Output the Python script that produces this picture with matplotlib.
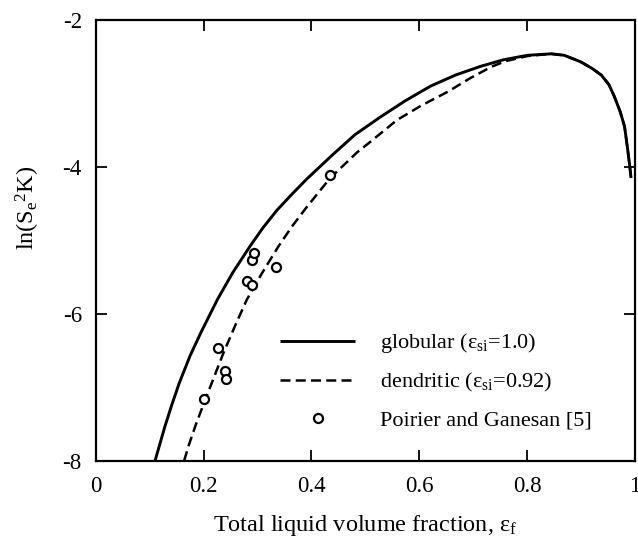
import matplotlib
matplotlib.use("Agg")
import matplotlib.pyplot as plt

plt.rcParams['font.family'] = ['Liberation Serif', 'DejaVu Serif']
plt.rcParams['mathtext.fontset'] = 'custom'
plt.rcParams['mathtext.rm'] = 'Liberation Serif'
plt.rcParams['mathtext.it'] = 'Liberation Serif:italic'
plt.rcParams['axes.unicode_minus'] = False

# globular curve (eps_si = 1.0)
glob_x = [0.110, 0.119, 0.128, 0.141, 0.155, 0.175, 0.196, 0.226, 0.254, 0.287,
          0.310, 0.336, 0.364, 0.392, 0.440, 0.481, 0.528, 0.574, 0.621, 0.667,
          0.714, 0.757, 0.801, 0.845, 0.869, 0.900, 0.921, 0.938, 0.952, 0.962,
          0.973, 0.981, 0.986, 0.990, 0.993]
glob_y = [-8.0, -7.77, -7.54, -7.24, -6.94, -6.57, -6.24, -5.80, -5.44, -5.07,
          -4.83, -4.59, -4.37, -4.16, -3.83, -3.56, -3.32, -3.10, -2.90, -2.75,
          -2.63, -2.54, -2.48, -2.46, -2.48, -2.57, -2.66, -2.75, -2.88, -3.04,
          -3.25, -3.45, -3.72, -3.95, -4.15]

# dendritic curve (eps_si = 0.92)
dend_x = [0.164, 0.172, 0.186, 0.203, 0.237, 0.258, 0.280, 0.308, 0.339, 0.364,
          0.392, 0.435, 0.485, 0.509, 0.559, 0.605, 0.652, 0.695, 0.733, 0.760,
          0.801, 0.845, 0.869, 0.900, 0.921, 0.938, 0.952, 0.962, 0.973, 0.981,
          0.986, 0.990, 0.993]
dend_y = [-8.0, -7.80, -7.50, -7.17, -6.53, -6.17, -5.81, -5.45, -5.08, -4.81,
          -4.54, -4.15, -3.80, -3.66, -3.36, -3.16, -2.98, -2.79, -2.64, -2.56,
          -2.49, -2.46, -2.48, -2.57, -2.66, -2.75, -2.88, -3.04, -3.25, -3.45,
          -3.72, -3.95, -4.15]

# Poirier and Ganesan [5] data
exp_x = [0.201, 0.226, 0.239, 0.242, 0.281, 0.290, 0.290, 0.293, 0.335, 0.434]
exp_y = [-7.16, -6.46, -6.78, -6.89, -5.55, -5.60, -5.27, -5.17, -5.36, -4.11]

xticks = [0, 0.2, 0.4, 0.6, 0.8, 1.0]
xticklabels = ['0', '0.2', '0.4', '0.6', '0.8', '1']
yticks = [-8, -6, -4, -2]
yticklabels = ['-8', '-6', '-4', '-2']

fig = plt.figure(figsize=(6.38, 5.41), dpi=100)
ax = fig.add_axes([0.150, 0.148, 0.845, 0.815])

ax.plot(glob_x, glob_y, color='black', lw=2.1, solid_capstyle='butt',
        solid_joinstyle='round', label='globular (ε$_\\mathrm{si}$=1.0)')
ax.plot(dend_x, dend_y, color='black', lw=1.8, dashes=(4.0, 2.1),
        label='dendritic (ε$_\\mathrm{si}$=0.92)')
ax.plot(exp_x, exp_y, linestyle='none', marker='o', markersize=6.5,
        markerfacecolor='white', markeredgecolor='black', markeredgewidth=1.6,
        label='Poirier and Ganesan [5]')

ax.set_xlim(0, 1.0)
ax.set_ylim(-8, -2)
ax.set_xticks(xticks)
ax.set_xticklabels(xticklabels)
ax.set_yticks(yticks)
ax.set_yticklabels(yticklabels)
ax.tick_params(direction='in', length=8, width=1.3, top=True, right=True,
               labelsize=16.5)
ax.tick_params(axis='x', pad=11)
ax.tick_params(axis='y', pad=10)
for s in ax.spines.values():
    s.set_linewidth(1.6)

ax.set_xlabel('Total liquid volume fraction, ε$_\\mathrm{f}$', fontsize=17.5)
ax.set_ylabel('ln(S$_\\mathrm{e}$$^\\mathrm{2}$K)', fontsize=17.5)
ax.yaxis.set_label_coords(-0.100, 0.575)
ax.xaxis.set_label_coords(0.5, -0.118)

ax.legend(loc='lower left', bbox_to_anchor=(0.325, 0.048), frameon=False,
          fontsize=16, handlelength=3.4, handletextpad=1.1, labelspacing=0.72,
          borderaxespad=0)

fig.savefig('out.png', dpi=100)
